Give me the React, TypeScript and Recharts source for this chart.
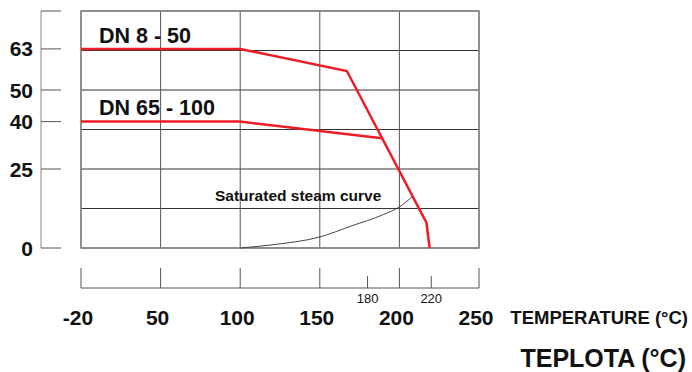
import React from 'react';
import { LineChart, Line, XAxis, YAxis, CartesianGrid, ReferenceArea } from 'recharts';

// temperature ticks (°C) of the lower scale, the small ones carry the short marks
const X_MAJOR = [-20, 50, 100, 150, 200, 250];
const X_MINOR = [180, 220];
// pressure ticks (bar) on the left scale; 75 is the unlabeled top mark
const Y_TICKS = [0, 25, 40, 50, 63, 75];
const Y_GRID = [0, 12.5, 25, 37.5, 50, 62.5, 75];

// DN 8 - 50
const DN8_T = [-20, 100, 167, 217, 219];
const DN8_P = [63, 63, 56, 8, 0];
// DN 65 - 100
const DN65_T = [-20, 100, 189];
const DN65_P = [40, 40, 34.7];
// saturated steam curve
const STEAM_T = [100, 120, 150, 170, 190, 200, 208];
const STEAM_P = [0, 1, 3.5, 7, 10.6, 13, 16.2];

const FONT = '"Liberation Sans", Arial, Helvetica, sans-serif';
const RED = '#ee1c25';

// the scale is stretched below 50 °C: -20..50 takes the same width as 50..100
const toU = (t: number) => (t < 50 ? (t + 20) / 70 : 1 + (t - 50) / 50);
const fromU = (u: number) => Math.round(u < 1 ? u * 70 - 20 : 50 + (u - 1) * 50);

const series = (ts: number[], ps: number[]) => ts.map((t, i) => ({ u: toU(t), p: ps[i] }));
const dn8 = series(DN8_T, DN8_P);
const dn65 = series(DN65_T, DN65_P);
const steam = series(STEAM_T, STEAM_P);

const gridX = X_MAJOR.map(toU);
const tickX = [...X_MAJOR, ...X_MINOR].map(toU);

function TempTick(props: any) {
  const { x, y, payload } = props;
  const t = fromU(payload.value);
  const minor = X_MINOR.includes(t);
  return (
    <g>
      <line x1={x} x2={x} y1={y} y2={y - (minor ? 12 : 20)} stroke="#555" strokeWidth={1} />
      <text
        x={minor ? x : x - 3}
        y={y + (minor ? 10 : 29)}
        textAnchor="middle"
        dominantBaseline="central"
        fontFamily={FONT}
        fontSize={minor ? 13 : 21}
        fontWeight={minor ? 'normal' : 'bold'}
        fill="#111"
      >
        {t}
      </text>
    </g>
  );
}

function PressTick(props: any) {
  const { x, y, payload } = props;
  const v = payload.value;
  return (
    <g>
      <line x1={x} x2={x + 20} y1={y} y2={y} stroke="#555" strokeWidth={1} />
      {v !== 75 && (
        <text
          x={x - 8}
          y={y}
          textAnchor="end"
          dominantBaseline="central"
          fontFamily={FONT}
          fontSize={21}
          fontWeight="bold"
          fill="#111"
        >
          {v}
        </text>
      )}
    </g>
  );
}

export default function App() {
  return (
    <div style={{ position: 'absolute', left: 0, top: 0, width: 692, height: 372, background: '#fff' }}>
      <LineChart width={692} height={372} margin={{ top: 11, right: 213, bottom: 0, left: 0 }}>
        {/* empty spacer axes next to the plot, the drawn scales sit outside them */}
        <XAxis xAxisId={0} type="number" domain={[0, 5]} tick={false} axisLine={false} tickLine={false} height={40} />
        <XAxis
          xAxisId="scale"
          type="number"
          dataKey="u"
          domain={[0, 5]}
          ticks={tickX}
          interval={0}
          tick={<TempTick />}
          tickLine={false}
          tickSize={0}
          tickMargin={0}
          axisLine={{ stroke: '#555', strokeWidth: 1 }}
          height={84}
        />
        <YAxis yAxisId={0} type="number" domain={[0, 75]} tick={false} axisLine={false} tickLine={false} width={40} />
        <YAxis
          yAxisId="scale"
          type="number"
          domain={[0, 75]}
          ticks={Y_TICKS}
          interval={0}
          tick={<PressTick />}
          tickLine={false}
          tickSize={0}
          tickMargin={0}
          axisLine={{ stroke: '#888', strokeWidth: 1 }}
          width={41}
        />
        <CartesianGrid
          xAxisId="scale"
          yAxisId="scale"
          vertical={false}
          horizontalValues={Y_GRID}
          stroke="#333"
          strokeWidth={1}
        />
        <CartesianGrid
          xAxisId="scale"
          yAxisId="scale"
          horizontal={false}
          verticalValues={gridX}
          stroke="#555"
          strokeWidth={1}
        />
        <ReferenceArea
          xAxisId="scale"
          yAxisId="scale"
          x1={0}
          x2={5}
          y1={0}
          y2={75}
          fill="none"
          stroke="#888"
          strokeWidth={1.5}
          ifOverflow="visible"
        />
        <Line
          data={steam}
          dataKey="p"
          xAxisId="scale"
          yAxisId="scale"
          type="monotone"
          stroke="#444"
          strokeWidth={1}
          dot={false}
          isAnimationActive={false}
        />
        <Line
          data={dn65}
          dataKey="p"
          xAxisId="scale"
          yAxisId="scale"
          type="linear"
          stroke={RED}
          strokeWidth={2.5}
          dot={false}
          isAnimationActive={false}
        />
        <Line
          data={dn8}
          dataKey="p"
          xAxisId="scale"
          yAxisId="scale"
          type="linear"
          stroke={RED}
          strokeWidth={2.5}
          dot={false}
          isAnimationActive={false}
        />
      </LineChart>
      <svg
        width={692}
        height={372}
        style={{ position: 'absolute', left: 0, top: 0, pointerEvents: 'none' }}
        fontFamily={FONT}
        fontWeight="bold"
        fill="#111"
      >
        <text x={99} y={36} fontSize={21.5} dominantBaseline="central">DN 8 - 50</text>
        <text x={99} y={108} fontSize={21.5} dominantBaseline="central">DN 65 - 100</text>
        <text x={215} y={195} fontSize={15.5} dominantBaseline="central">Saturated steam curve</text>
        <text x={688} y={317} fontSize={18.5} textAnchor="end" dominantBaseline="central">TEMPERATURE (°C)</text>
        <text x={686} y={358} fontSize={25} textAnchor="end" dominantBaseline="central">TEPLOTA (°C)</text>
      </svg>
    </div>
  );
}
